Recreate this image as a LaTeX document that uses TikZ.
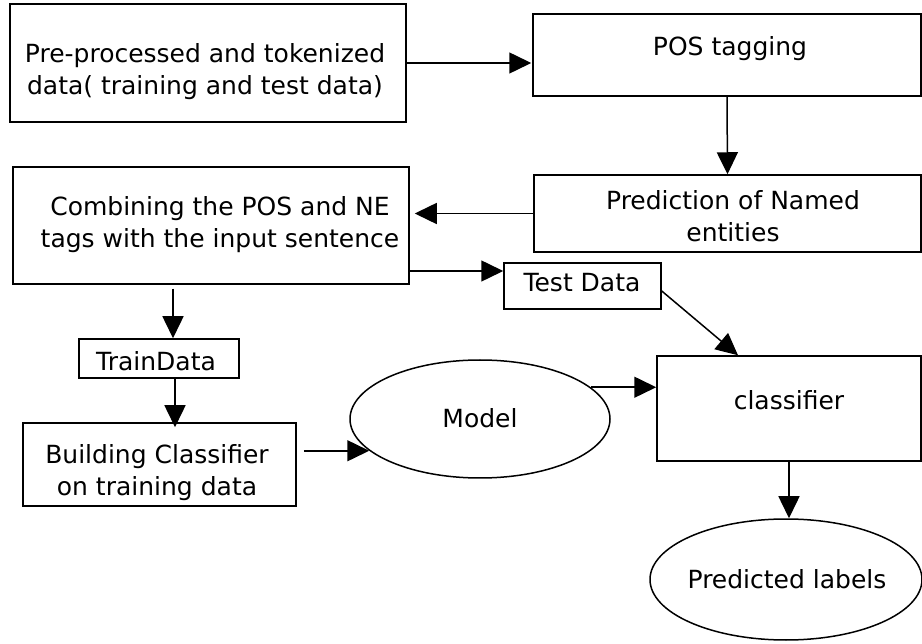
\documentclass[tikz,border=0pt]{standalone}
\usepackage{fontspec}
\setmainfont{DejaVu Sans}
\usetikzlibrary{arrows.meta,shapes.geometric}
\begin{document}
\begin{tikzpicture}[x=1pt,y=-1pt,
  box/.style={draw, line width=1.5pt, rectangle, inner sep=0pt},
  oval/.style={draw, line width=1.5pt, ellipse, inner sep=0pt},
  txt/.style={font=\fontsize{25}{32}\selectfont, align=center, inner sep=0pt},
  arr/.style={-{Triangle[length=22pt,width=21pt]}, line width=1.5pt}]
\useasboundingbox (0,0) rectangle (922,644);
% boxes
\node[box, minimum width=396pt, minimum height=118pt] (A) at (208,63) {};
\node[box, minimum width=388pt, minimum height=82pt] (B) at (727,55) {};
\node[box, minimum width=387pt, minimum height=77pt] (C) at (727.5,213.5) {};
\node[box, minimum width=396pt, minimum height=117pt] (D) at (211,225.5) {};
\node[box, minimum width=157pt, minimum height=46pt] (E) at (582.5,286) {};
\node[box, minimum width=160pt, minimum height=39pt] (F) at (159,358.5) {};
\node[box, minimum width=273pt, minimum height=83pt] (G) at (159.5,464.5) {};
\node[oval, minimum width=260pt, minimum height=118pt] (H) at (480,419) {};
\node[box, minimum width=264pt, minimum height=105pt] (I) at (789,408.5) {};
\node[oval, minimum width=272pt, minimum height=121pt] (J) at (786,579.5) {};
% texts
\node[txt] (At) at (205,72) {Pre-processed and tokenized\\data( training and test data)};
\node[txt] (Bt) at (730,49) {POS tagging};
\node[txt] (Ct) at (733,216) {Prediction of Named\\entities};
\node[txt] (Dt) at (220,225) {Combining the POS and NE\\tags with the input sentence};
\node[txt] (Et) at (582,283) {Test Data};
\node[txt] (Ft) at (156,361) {TrainData};
\node[txt] (Gt) at (157,473) {Building Classifier\\on training data};
\node[txt] (Ht) at (480,418) {Model};
\node[txt] (It) at (789,400) {classifier};
\node[txt] (Jt) at (787,579) {Predicted labels};
% connectors
\draw[arr, shorten >=1pt] (A.east) -- (A.east -| B.west);
\draw[arr] (B.south) -- (C.north);
\draw[arr, shorten >=5pt] (C.west) -- (C.west -| D.east);
\coordinate (e1) at ([yshift=15pt]E.west);
\draw[arr] (e1 -| D.east) -- (e1);
\draw[arr] ([yshift=-5pt]E.east) -- ([xshift=-51pt]I.north);
\coordinate (f1) at ([xshift=14pt]F.north);
\draw[arr, shorten <=4pt] (f1 |- D.south) -- (f1);
\coordinate (g1) at ([xshift=16pt]F.south);
\draw[arr, shorten >=-5pt] (g1) -- (g1 |- G.north);
\draw[arr, shorten <=7pt] (H.196 -| G.east) -- (H.196);
\draw[arr] (H.16) -- (H.16 -| I.west);
\draw[arr] (I.south) -- (I.south |- J.north);
\end{tikzpicture}
\end{document}
